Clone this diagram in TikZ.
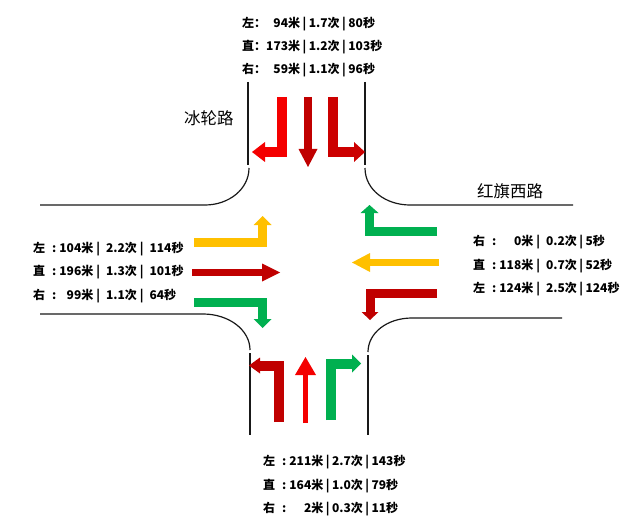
\documentclass[tikz,border=0pt]{standalone}
\usepackage{fontspec}
\setmainfont{Noto Sans CJK SC}
\usetikzlibrary{arrows.meta}
\definecolor{brred}{HTML}{F40000}
\definecolor{dkred}{HTML}{C00000}
\definecolor{mdred}{HTML}{CC0000}
\definecolor{amber}{HTML}{FFC000}
\definecolor{grn}{HTML}{00B050}
\newcommand\sepL{\hspace{3pt}|\hspace{6pt}}
\newcommand\sepT{\hspace{2.5pt}|\hspace{2.5pt}}
\newcommand\dg{\hphantom{0}}
\tikzset{
  road/.style={line width=1.2pt, draw=black!90},
  lane/.style={line cap=butt, line join=miter},
  lab/.style={anchor=west, inner sep=0pt, font=\bfseries\fontsize{12}{14}\selectfont},
  rname/.style={anchor=west, inner sep=0pt, font=\fontsize{16.5}{18}\selectfont},
  tip/.style n args={2}{-{Triangle[width=#1pt,length=#2pt,line width=0pt]}}
}
\begin{document}
\begin{tikzpicture}[x=1pt,y=-1pt]
\useasboundingbox (0,0) rectangle (640,524);
% roads
\draw[road] (248,82) -- (248,165);
\draw[road] (249,168) .. controls (249,189) and (229,205) .. (205,205) -- (40,205);
\draw[road] (365,82) -- (365,165);
\draw[road] (365,168) .. controls (365,190) and (386,205) .. (410,205) -- (573,205);
\draw[road] (40,314) -- (203,314) .. controls (229,314) and (250,330) .. (250,350);
\draw[road] (250,353) -- (250,435);
\draw[road] (562,318) -- (412,318) .. controls (387,318) and (368,333) .. (368,352);
\draw[road] (368,355) -- (368,435);
% top approach
\draw[lane, brred, line width=10pt, tip={20}{13}] (281.5,97) |- (252,152);
\draw[lane, dkred, line width=8pt, tip={19}{18}] (308,97) -- (308,167);
\draw[lane, mdred, line width=10pt, tip={20}{11}] (333,97) |- (365,152);
% left approach
\draw[lane, amber, line width=9pt, tip={18}{9}] (194,242.5) -| (262.5,216);
\draw[lane, dkred, line width=7pt, tip={18}{18}] (192,272.5) -- (280,272.5);
\draw[lane, grn, line width=9pt, tip={18}{9}] (194,302.5) -| (262.5,328);
% right approach
\draw[lane, grn, line width=9pt, tip={18}{8}] (437,231.5) -| (369.5,205);
\draw[lane, amber, line width=7pt, tip={19}{18}] (439,262.5) -- (352,262.5);
\draw[lane, dkred, line width=9pt, tip={17}{8}] (437,293.5) -| (370,320);
% bottom approach
\draw[lane, dkred, line width=10pt, tip={16}{11}] (279,422) |- (249,365.5);
\draw[lane, brred, line width=5.5pt, tip={21}{18}] (305.5,423) -- (305.5,357);
\draw[lane, grn, line width=10pt, tip={18}{9}] (331,420) |- (361,363.5);
% road names
\node[rname] (nb) at (184,118) {冰轮路};
\node[rname] (nh) at (477,191) {红旗西路};
% top labels
\node[lab] (t1) at (242,24) {左：\dg 94米\sepT 1.7次\sepT 80秒};
\node[lab] (t2) at (242,47) {直：173米\sepT 1.2次\sepT 103秒};
\node[lab] (t3) at (242,70.5) {右：\dg 59米\sepT 1.1次\sepT 96秒};
% left labels
\node[lab] (l1) at (33,249) {左\hspace{7pt}:\hspace{3pt}104米\sepL 2.2次\sepL 114秒};
\node[lab] (l2) at (33,272.5) {直\hspace{7pt}:\hspace{3pt}196米\sepL 1.3次\sepL 101秒};
\node[lab] (l3) at (33,296) {右\hspace{7pt}:\hspace{3pt}\dg 99米\sepL 1.1次\sepL 64秒};
% right labels
\node[lab] (r1) at (473,242) {右\hspace{7pt}:\hspace{3pt}\dg\dg 0米\sepL 0.2次\sepT 5秒};
\node[lab] (r2) at (473,266) {直\hspace{7pt}:\hspace{3pt}118米\sepL 0.7次\sepT 52秒};
\node[lab] (r3) at (473,289) {左\hspace{7pt}:\hspace{3pt}124米\sepL 2.5次\sepT 124秒};
% bottom labels
\node[lab] (b1) at (263,462.5) {左\hspace{7pt}:\hspace{3pt}211米\sepT 2.7次\sepT 143秒};
\node[lab] (b2) at (263,486) {直\hspace{7pt}:\hspace{3pt}164米\sepT 1.0次\sepT 79秒};
\node[lab] (b3) at (263,509) {右\hspace{7pt}:\hspace{3pt}\dg\dg 2米\sepT 0.3次\sepT 11秒};
\end{tikzpicture}
\end{document}
